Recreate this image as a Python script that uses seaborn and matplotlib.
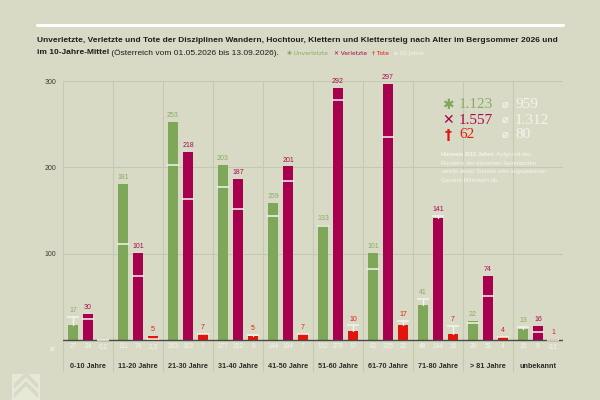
import matplotlib
matplotlib.use("Agg")
import matplotlib.pyplot as plt
import seaborn as sns
import pandas as pd
from matplotlib.patches import Polygon, Rectangle

# ---------------- data ----------------
groups = ["0-10 Jahre", "11-20 Jahre", "21-30 Jahre", "31-40 Jahre", "41-50 Jahre",
          "51-60 Jahre", "61-70 Jahre", "71-80 Jahre", "> 81 Jahre", "unbekannt"]
kinds = ["Unverletzte", "Verletzte", "Tote"]
unverletzte = [17, 181, 253, 203, 159, 133, 101, 41, 22, 13]
verletzte = [30, 101, 218, 187, 201, 292, 297, 141, 74, 16]
tote = [0, 5, 7, 5, 7, 10, 17, 7, 4, 1]
mittel_unverletzte = [27, 111, 203, 177, 144, 132, 82, 48, 20, 15]
mittel_verletzte = [24, 74, 163, 152, 184, 278, 235, 144, 51, 9]
mittel_tote = [0.2, 1.3, 7, 6, 7, 17, 22, 16, 4, 0.1]
totals = ["1.123", "1.557", "62"]
totals_mittel = ["959", "1.312", "80"]
yticks = [100, 200, 300]

BG = "#d8dac6"
GRID = "#c6c9b2"
BAR_COLORS = ["#7fa75a", "#a6004f", "#e3140d"]
LABEL_COLORS = ["#86ae62", "#a8084f", "#e61a12"]
WHITE = "#f4f5ec"

values = [unverletzte, verletzte, tote]
means = [mittel_unverletzte, mittel_verletzte, mittel_tote]

rows = []
for k, vals in zip(kinds, values):
    for g, v in zip(groups, vals):
        rows.append({"group": g, "kind": k, "value": v})
df = pd.DataFrame(rows)

sns.set_theme(style="white")
plt.rcParams["font.family"] = ["Liberation Sans", "DejaVu Sans"]

W, H = 600, 400
fig = plt.figure(figsize=(6, 4), dpi=100, facecolor=BG)

# axes placement in pixels
x0, x1 = 63, 563
ytop, ybot = 81, 372
ax = fig.add_axes([x0 / W, 1 - ybot / H, (x1 - x0) / W, (ybot - ytop) / H])
ax.set_facecolor(BG)

sns.barplot(data=df, x="group", y="value", hue="kind", hue_order=kinds, order=groups,
            palette=BAR_COLORS, width=0.9, gap=0.33, saturation=1, legend=False,
            ax=ax, errorbar=None, linewidth=0, edgecolor="none")

px_per_unit = (340 - ytop) / 300.0
ax.set_xlim(-0.5, len(groups) - 0.5)
ax.set_ylim(-(ybot - 340) / px_per_unit, 300)
for s in ax.spines.values():
    s.set_visible(False)

# grid
for yv in yticks:
    ax.axhline(yv, color=GRID, lw=0.8, zorder=0)
for i in range(len(groups) + 1):
    ax.axvline(i - 0.5, color=GRID, lw=0.8, zorder=0)
ax.axhline(0, color="#4a4a44", lw=1.0, zorder=3)

ax.set_xticks([])
ax.set_xlabel("")
ax.set_ylabel("")
ax.set_yticks(yticks)
ax.set_yticklabels([str(t) for t in yticks], fontsize=5, color="#3a3a36")
ax.tick_params(axis="y", length=0, pad=5)

# bar centers from seaborn patches (ordered hue by hue)
patches = [p for p in ax.patches if isinstance(p, Rectangle)]
n = len(groups)
half = 0.12
for ki in range(3):
    for gi in range(n):
        p = patches[ki * n + gi]
        p.set_linewidth(0)
        cx = p.get_x() + p.get_width() / 2
        v = values[ki][gi]
        m = means[ki][gi]
        # mean marker
        ax.plot([cx - half, cx + half], [m, m], color=WHITE, lw=1.1, zorder=4,
                solid_capstyle="butt")
        if m > v:
            ax.plot([cx, cx], [v, m], color=WHITE, lw=1.0, zorder=4)
        # value label
        if v > 0:
            ax.text(cx, max(v, m) + 3.2, str(v), ha="center", va="bottom",
                    fontsize=5, color=LABEL_COLORS[ki], zorder=5)
        # mean label below axis
        ml = (f"{m:.1f}".replace(".", ",") if m != int(m) else str(int(m)))
        ax.text(cx, -8, ml, ha="center", va="center", fontsize=4.8,
                color=WHITE, zorder=5)

for gi, g in enumerate(groups):
    ax.text(gi, -31, g, ha="center", va="center", fontsize=5.2,
            color="#2c2c28", fontweight="semibold")
ax.text(-0.72, -10, "⌀", ha="center", va="center", fontsize=5.5, color=WHITE,
        clip_on=False, family=["DejaVu Sans"])

# ---------------- header ----------------
fig.add_artist(plt.Line2D([37 / W, 563 / W], [1 - 25 / H, 1 - 25 / H],
                          color="white", lw=2.2, transform=fig.transFigure))

renderer = fig.canvas.get_renderer()

def put(xpx, ypx, s, **kw):
    t = fig.text(xpx / W, 1 - ypx / H, s, va="center", ha="left", **kw)
    bb = t.get_window_extent(renderer=renderer)
    return xpx + bb.width

title1 = ("Unverletzte, Verletzte und Tote der Disziplinen Wandern, Hochtour, "
          "Klettern und Klettersteig nach Alter im Bergsommer 2026 und")
tfs = 6.0
t = fig.text(37 / W, 1 - 40 / H, title1, fontsize=tfs, fontweight="bold",
             color="#1e1e1a", va="center", ha="left")
w = t.get_window_extent(renderer=renderer).width
tfs = tfs * 526.0 / w
t.set_fontsize(tfs)

xx = put(37, 53, "im 10-Jahre-Mittel", fontsize=tfs, fontweight="bold", color="#1e1e1a")
xx = put(xx, 53, " (Österreich vom 01.05.2026 bis 13.09.2026).", fontsize=tfs,
         color="#1e1e1a")
lfs = 4.2
xx += 8
xx = put(xx, 53.5, "✱ Unverletzte", fontsize=lfs, color=LABEL_COLORS[0],
         family=["DejaVu Sans"])
xx += 6
xx = put(xx, 53.5, "✕ Verletzte", fontsize=lfs, color=LABEL_COLORS[1],
         family=["DejaVu Sans"])
xx += 5
xx = put(xx, 53.5, "† Tote", fontsize=lfs, color=LABEL_COLORS[2],
         family=["DejaVu Sans"])
xx += 5
xx = put(xx, 53.5, "⌀ 10 Jahre", fontsize=lfs, color=WHITE, family=["DejaVu Sans"])

# ---------------- summary box ----------------
syms = ["✱", "✕", "†"]
for i in range(3):
    ypx = 105 + i * 15
    fig.text(448 / W, 1 - ypx / H, syms[i], fontsize=10, color=BAR_COLORS[i],
             ha="center", va="center", family=["DejaVu Sans"], fontweight="bold")
    fig.text(459 / W, 1 - ypx / H, totals[i], fontsize=11, color=LABEL_COLORS[i],
             ha="left", va="center", family=["Liberation Serif"])
    fig.text(505 / W, 1 - ypx / H, "⌀", fontsize=8, color=WHITE,
             ha="center", va="center", family=["DejaVu Sans"], fontweight="bold")
    fig.text(515 / W, 1 - ypx / H, totals_mittel[i], fontsize=11, color=WHITE,
             ha="left", va="center", family=["Liberation Serif"])

xx = put(441, 155, "Hinweis Ø10 Jahre:", fontsize=4.2, color=WHITE, fontweight="bold")
put(xx, 155, " Aufgrund des", fontsize=4.2, color=WHITE)
note = ["Rundens der einzelnen Summanden",
        "weicht deren Summe vom angegebenen",
        "Gesamt-Mittelwert ab."]
for i, line in enumerate(note):
    put(441, 163.5 + i * 8.5, line, fontsize=4.2, color=WHITE)

# ---------------- logo ----------------
logo_bg = Rectangle((12 / W, 0), 28 / W, 26 / H, transform=fig.transFigure,
                    facecolor="#e6e8d8", edgecolor="none")
fig.add_artist(logo_bg)
for off in (0, 9):
    pts = [(14, 393 - off), (26, 381 - off), (38, 393 - off), (38, 398 - off),
           (26, 386 - off), (14, 398 - off)]
    fig.add_artist(Polygon([(px / W, 1 - py / H) for px, py in pts], closed=True,
                           transform=fig.transFigure, facecolor=BG, edgecolor="none"))

fig.savefig("out.png", dpi=100, facecolor=BG)
